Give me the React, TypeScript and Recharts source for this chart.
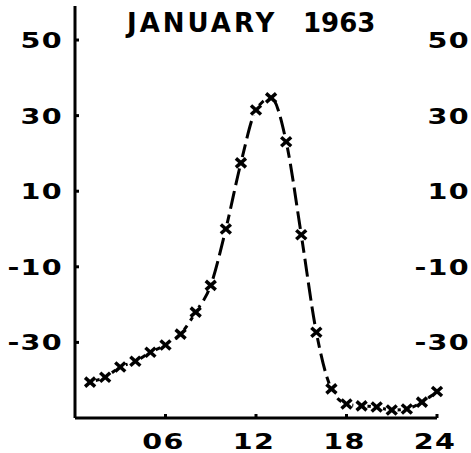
import { LineChart, Line, XAxis, YAxis } from 'recharts';

// hourly values
const hours = [1, 2, 3, 4, 5, 6, 7, 8, 9, 10, 11, 12, 13, 14, 15, 16, 17, 18, 19, 20, 21, 22, 23, 24];
const values = [
  -40.5, -39.2, -36.5, -35, -32.6, -30.7, -27.8, -22, -14.9, 0, 17.5, 31.5,
  34.7, 23.1, -1.5, -27.3, -42.3, -46.3, -46.8, -47.1, -47.9, -47.6, -45.8, -43,
];
const xTicks = [6, 12, 18, 24];
const yTicks = [-30, -10, 10, 30, 50];

const data = hours.map((h, i) => ({ hour: h, value: values[i] }));

const FONT = '"DejaVu Sans", sans-serif';

// the scan uses a wide geometric face, so stretch the glyphs a bit
function WideText({ x, y, anchor, children }: any) {
  return (
    <text
      transform={`translate(${x},${y}) scale(1.3,1)`}
      dy="0.36em"
      textAnchor={anchor}
      fontFamily={FONT}
      fontWeight="bold"
      fontSize={22}
      letterSpacing={1}
      fill="#000"
    >
      {children}
    </text>
  );
}

function YTick(props: any) {
  const { x, y, payload } = props;
  return (
    <g>
      <WideText x={x} y={y} anchor="end">{payload.value}</WideText>
      <line x1={x + 12} y1={y} x2={x + 16} y2={y} stroke="#000" strokeWidth={3} />
      {/* labels of the neighbouring panel at the page edge */}
      <WideText x={x + 407} y={y} anchor="end">{payload.value}</WideText>
    </g>
  );
}

function XTick(props: any) {
  const { x, y, payload } = props;
  return (
    <g>
      <line x1={x} y1={y - 14} x2={x} y2={y - 18} stroke="#000" strokeWidth={3} />
      <WideText x={x - 2} y={y + 9} anchor="middle">{String(payload.value).padStart(2, '0')}</WideText>
    </g>
  );
}

function Cross(props: any) {
  const { cx, cy, index } = props;
  if (cx == null || cy == null) return null;
  return (
    <g key={index}>
      <circle cx={cx} cy={cy} r={6} fill="#fff" />
      <line x1={cx - 5} y1={cy - 4.5} x2={cx + 5} y2={cy + 4.5} stroke="#000" strokeWidth={3.5} />
      <line x1={cx - 5} y1={cy + 4.5} x2={cx + 5} y2={cy - 4.5} stroke="#000" strokeWidth={3.5} />
    </g>
  );
}

const titleStyle = {
  position: 'absolute' as const,
  top: 10,
  fontFamily: FONT,
  fontWeight: 'bold' as const,
  fontSize: 26,
  lineHeight: 1,
  color: '#000',
  whiteSpace: 'nowrap' as const,
};

export default function App() {
  return (
    <div style={{ position: 'absolute', left: 0, top: 0, width: 471, height: 453, overflow: 'hidden', background: '#fff' }}>
      <LineChart width={471} height={453} data={data} margin={{ top: 6, right: 34, bottom: 0, left: 0 }}>
        <XAxis
          dataKey="hour"
          type="number"
          domain={[0, 24]}
          ticks={xTicks}
          height={35}
          tickSize={0}
          tickMargin={14}
          tick={<XTick />}
          axisLine={{ stroke: '#000', strokeWidth: 3 }}
        />
        <YAxis
          type="number"
          domain={[-50, 59]}
          ticks={yTicks}
          width={75}
          tickSize={0}
          tickMargin={12}
          tick={<YTick />}
          axisLine={{ stroke: '#000', strokeWidth: 3 }}
          allowDataOverflow
        />
        <Line
          type="monotone"
          dataKey="value"
          stroke="#000"
          strokeWidth={3}
          strokeDasharray="18 6"
          dot={<Cross />}
          activeDot={false}
          isAnimationActive={false}
        />
      </LineChart>
      <div style={{ ...titleStyle, left: 127, letterSpacing: 3 }}>JANUARY</div>
      <div style={{ ...titleStyle, left: 303 }}>1963</div>
    </div>
  );
}
